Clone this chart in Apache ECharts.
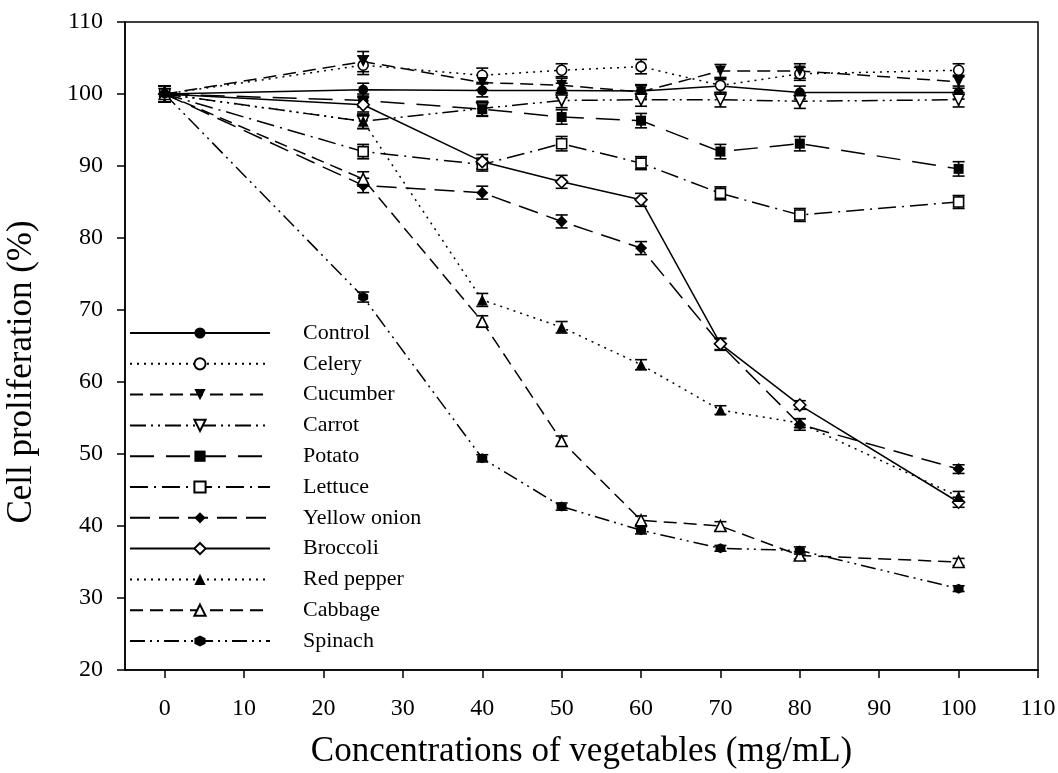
<!DOCTYPE html>
<html>
<head>
<meta charset="utf-8">
<script src="https://cdn.jsdelivr.net/npm/echarts@6/dist/echarts.min.js"></script>
<style>
  html, body { margin: 0; padding: 0; background: #fff; }
  #chart { width: 1058px; height: 773px; }
</style>
</head>
<body>
<div id="chart"></div>
<script>
// concentrations (mg/mL)
var conc = [0, 25, 40, 50, 60, 70, 80, 100];
var xTicks = [0, 10, 20, 30, 40, 50, 60, 70, 80, 90, 100, 110];

// cell proliferation (%)
var control   = [100, 100.6, 100.5, 100.5, 100.4, 101.1, 100.2, 100.2];
var celery    = [100, 104.0, 102.6, 103.3, 103.8, 101.2, 102.8, 103.3];
var cucumber  = [100, 104.5, 101.6, 101.2, 100.3, 103.2, 103.2, 101.7];
var carrot    = [100, 96.2, 98.0, 99.1, 99.2, 99.2, 99.0, 99.2];
var potato    = [100, 99.1, 97.9, 96.8, 96.3, 92.0, 93.1, 89.6];
var lettuce   = [100, 92.0, 90.2, 93.1, 90.4, 86.2, 83.2, 85.0];
var onion     = [100, 87.3, 86.3, 82.3, 78.6, 65.2, 54.1, 47.9];
var broccoli  = [100, 98.5, 90.6, 87.8, 85.3, 65.3, 56.8, 43.3];
var redPepper = [100, 96.2, 71.4, 67.6, 62.4, 56.1, 54.3, 44.1];
var cabbage   = [100, 88.2, 68.4, 51.8, 40.8, 40.0, 35.9, 35.0];
var spinach   = [100, 71.8, 49.4, 42.7, 39.4, 36.9, 36.6, 31.3];

// error bars (+/-)
var errControl   = [1.1, 0.9, 0.9, 1.0, 0.8, 0.9, 0.9, 0.9];
var errCelery    = [1.1, 1.3, 1.0, 0.9, 1.0, 1.0, 0.9, 0.9];
var errCucumber  = [1.1, 1.4, 1.0, 1.0, 1.0, 0.9, 1.0, 0.9];
var errCarrot    = [1.1, 1.0, 1.0, 1.0, 0.9, 1.0, 1.0, 1.0];
var errPotato    = [1.1, 0.9, 1.0, 1.0, 1.0, 1.0, 1.0, 1.0];
var errLettuce   = [1.1, 1.0, 0.9, 1.0, 0.9, 0.9, 0.9, 0.9];
var errOnion     = [1.1, 1.0, 0.9, 0.9, 0.9, 0.8, 0.8, 0.6];
var errBroccoli  = [1.1, 1.0, 1.0, 0.9, 0.9, 0.8, 0.6, 0.7];
var errRedPepper = [1.1, 1.0, 0.9, 0.8, 0.7, 0.6, 0.6, 0.7];
var errCabbage   = [1.1, 1.0, 0.8, 0.7, 0.6, 0.6, 0.5, 0.5];
var errSpinach   = [1.1, 0.7, 0.5, 0.5, 0.5, 0.4, 0.5, 0.4];

var FONT = '"Liberation Serif", "Times New Roman", serif';

var triDown = 'path://M0,0 L10,0 L5,9 Z';
var hexagon = 'path://M5,0 L9.33,2.5 L9.33,7.5 L5,10 L0.67,7.5 L0.67,2.5 Z';

// name, values, errors, dash, symbol, size, open marker
var defs = [
    ['Control',      control,   errControl,   'solid',                 'circle',  10, false],
    ['Celery',       celery,    errCelery,    [2, 5],                  'circle',  10, true],
    ['Cucumber',     cucumber,  errCucumber,  [13, 7],                 triDown,   11, false],
    ['Carrot',       carrot,    errCarrot,    [16, 5, 2, 5, 2, 5],     triDown,   11, true],
    ['Potato',       potato,    errPotato,    [24, 12],                'rect',    10, false],
    ['Lettuce',      lettuce,   errLettuce,   [18, 6, 2, 6],           'rect',    10, true],
    ['Yellow onion', onion,     errOnion,     [20, 9],                 'diamond', 12, false],
    ['Broccoli',     broccoli,  errBroccoli,  'solid',                 'diamond', 12, true],
    ['Red pepper',   redPepper, errRedPepper, [2, 5],                  'triangle',11, false],
    ['Cabbage',      cabbage,   errCabbage,   [13, 7],                 'triangle',11, true],
    ['Spinach',      spinach,   errSpinach,   [15, 5, 2, 5, 2, 5],     hexagon,   10, false]
];

function errorBarItem(params, api) {
    var x = api.value(0);
    var lo = api.coord([x, api.value(1)]);
    var hi = api.coord([x, api.value(2)]);
    var w = 6;
    var st = { stroke: '#000', lineWidth: 1.6 };
    return {
        type: 'group',
        children: [
            { type: 'line', shape: { x1: lo[0], y1: lo[1], x2: hi[0], y2: hi[1] }, style: st },
            { type: 'line', shape: { x1: lo[0] - w, y1: lo[1], x2: lo[0] + w, y2: lo[1] }, style: st },
            { type: 'line', shape: { x1: hi[0] - w, y1: hi[1], x2: hi[0] + w, y2: hi[1] }, style: st }
        ]
    };
}

var series = [];
var names = [];

defs.forEach(function (d) {
    var pts = [];
    var bars = [];
    for (var i = 0; i < conc.length; i++) {
        pts.push([conc[i], d[1][i]]);
        bars.push([conc[i], d[1][i] - d[2][i], d[1][i] + d[2][i]]);
    }
    names.push(d[0]);

    series.push({
        type: 'custom',
        name: d[0] + ' err',
        renderItem: errorBarItem,
        data: bars,
        z: 2,
        silent: true
    });

    series.push({
        type: 'line',
        name: d[0],
        data: pts,
        symbol: d[4],
        symbolSize: d[5],
        showAllSymbol: true,
        z: 3,
        lineStyle: { color: '#000', width: 1.5, type: d[3] },
        itemStyle: {
            color: d[6] ? '#fff' : '#000',
            borderColor: '#000',
            borderWidth: d[6] ? 1.6 : 0
        },
        emphasis: { disabled: true },
        animation: false
    });
});

var chart = echarts.init(document.getElementById('chart'));

chart.setOption({
    backgroundColor: '#fff',
    animation: false,
    textStyle: { fontFamily: FONT, color: '#000' },
    grid: {
        left: 125, right: 20, top: 22, bottom: 103,
        show: true, borderColor: '#000', borderWidth: 1.5,
        outerBoundsMode: 'none'
    },
    legend: {
        data: names,
        orient: 'vertical',
        left: 124,
        top: 317,
        itemWidth: 140,
        itemHeight: 14,
        itemGap: 8.8,
        selectedMode: false,
        textStyle: {
            fontFamily: FONT, fontSize: 22, color: '#000',
            lineHeight: 22, padding: [0, 0, 0, 28]
        }
    },
    graphic: [{
        type: 'text',
        x: 22,
        y: 372,
        rotation: Math.PI / 2,
        style: {
            text: 'Cell proliferation (%)',
            fontFamily: FONT,
            fontSize: 35,
            fill: '#000',
            align: 'center',
            verticalAlign: 'middle'
        }
    }],
    xAxis: {
        type: 'value',
        min: -5,
        max: 110,
        name: 'Concentrations of vegetables (mg/mL)',
        nameLocation: 'middle',
        nameGap: 64,
        nameTextStyle: { fontFamily: FONT, fontSize: 35, color: '#000' },
        axisLine: { onZero: false, lineStyle: { color: '#000', width: 1.5 } },
        axisTick: { show: true, customValues: xTicks, length: 8, lineStyle: { color: '#000', width: 1.5 } },
        axisLabel: { customValues: xTicks, margin: 27, fontFamily: FONT, fontSize: 24, color: '#000' },
        splitLine: { show: false }
    },
    yAxis: {
        type: 'value',
        min: 20,
        max: 110,
        interval: 10,
        axisLine: { show: true, onZero: false, lineStyle: { color: '#000', width: 1.5 } },
        axisTick: { show: true, inside: false, length: 8, lineStyle: { color: '#000', width: 1.5 } },
        axisLabel: { margin: 22, fontFamily: FONT, fontSize: 24, color: '#000' },
        splitLine: { show: false }
    },
    series: series
});
</script>
</body>
</html>
